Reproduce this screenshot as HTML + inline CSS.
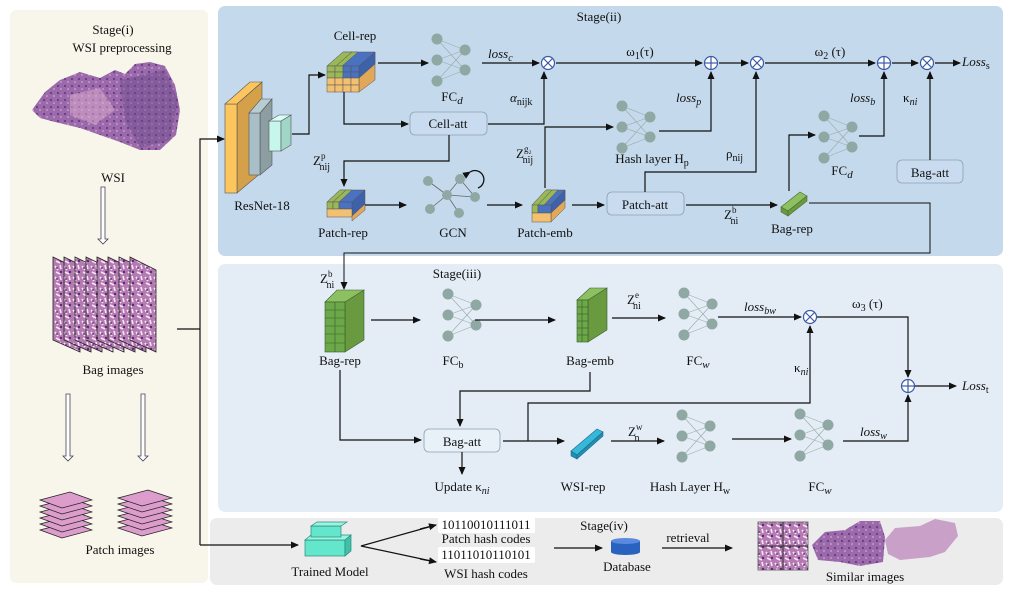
<!DOCTYPE html>
<html><head><meta charset="utf-8"><style>
html,body{margin:0;padding:0;background:#fff}
svg{display:block}
text{font-family:"Liberation Serif",serif;font-size:13px;fill:#111}
.it{font-style:italic}
</style></head><body>
<svg width="1009" height="593" viewBox="0 0 1009 593" xmlns="http://www.w3.org/2000/svg">
<defs>
<marker id="a" markerWidth="8" markerHeight="8" refX="7" refY="4" orient="auto" markerUnits="userSpaceOnUse"><path d="M0,0.5 L8,4 L0,7.5 z" fill="#111"/></marker>
<pattern id="tex" width="9" height="11" patternUnits="userSpaceOnUse">
<rect width="9" height="11" fill="#b67ab2"/>
<path d="M1,2 L4,6 M6,1 L7,5 M2,8 L6,10" stroke="#f4e8f2" stroke-width="1.6"/>
<circle cx="7" cy="8" r="1.2" fill="#5a2a7a"/><circle cx="3" cy="4" r="1" fill="#6a3a8a"/>
</pattern>
<pattern id="tex2" width="7" height="7" patternUnits="userSpaceOnUse">
<rect width="7" height="7" fill="#9a6aaa"/>
<circle cx="2" cy="2" r="1.1" fill="#6a3a8a"/><circle cx="5" cy="5" r="1" fill="#c796c6"/>
</pattern>
<g id="nn">
<g stroke="#9aa" stroke-width="0.6">
<line x1="0" y1="0" x2="28" y2="11"/><line x1="0" y1="0" x2="28" y2="31"/>
<line x1="0" y1="21" x2="28" y2="11"/><line x1="0" y1="21" x2="28" y2="31"/>
<line x1="0" y1="42" x2="28" y2="11"/><line x1="0" y1="42" x2="28" y2="31"/>
</g>
<g fill="#8fa8a3"><circle cx="0" cy="0" r="5.5"/><circle cx="0" cy="21" r="5.5"/><circle cx="0" cy="42" r="5.5"/><circle cx="28" cy="11" r="5.5"/><circle cx="28" cy="31" r="5.5"/></g>
</g>
<g id="ox"><circle r="6.5" fill="#fff" stroke="#3a5aa8" stroke-width="1.2"/><line x1="-4.5" y1="-4.5" x2="4.5" y2="4.5" stroke="#3a5aa8" stroke-width="1.2"/><line x1="-4.5" y1="4.5" x2="4.5" y2="-4.5" stroke="#3a5aa8" stroke-width="1.2"/></g>
<g id="op"><circle r="6.5" fill="#fff" stroke="#3a5aa8" stroke-width="1.2"/><line x1="-6.5" y1="0" x2="6.5" y2="0" stroke="#3a5aa8" stroke-width="1.2"/><line x1="0" y1="-6.5" x2="0" y2="6.5" stroke="#3a5aa8" stroke-width="1.2"/></g>
</defs>

<!-- panels -->
<rect x="10" y="10" width="198" height="573" rx="6" fill="#f8f5ea"/>
<rect x="218" y="6" width="785" height="250" rx="7" fill="#c5d9ec"/>
<rect x="218" y="264" width="785" height="248" rx="7" fill="#e4edf6"/>
<rect x="210" y="518" width="793" height="67" rx="7" fill="#ececec"/>

<!-- stage i -->
<text x="113" y="34" text-anchor="middle" font-size="14">Stage(i)</text>
<text x="122" y="52" text-anchor="middle" font-size="14">WSI preprocessing</text>
<path d="M32,110 L45,92 L60,80 L80,72 L100,78 L115,70 L125,74 L135,64 L150,62 L165,66 L175,85 L180,110 L176,135 L160,150 L140,150 L120,142 L100,135 L80,128 L55,122 L40,118 z" fill="url(#tex2)"/>
<path d="M120,80 L165,70 L178,100 L170,140 L140,148 L125,120 z" fill="#6a4a8a" opacity="0.45"/>
<path d="M70,95 L100,88 L115,110 L95,125 L70,115 z" fill="#e0b0d0" opacity="0.5"/>
<text x="113" y="182" text-anchor="middle" font-size="11">WSI</text>
<path d="M101,187 h4 v52 h3 l-5,5 l-5,-5 h3 z" fill="#fff" stroke="#445" stroke-width="0.8"/>
<!-- bag images -->
<g stroke="#222" stroke-width="0.8" fill="url(#tex)">
<polygon points="53,257 80,270 80,352 53,340"/>
<polygon points="64,257 91,270 91,352 64,340"/>
<polygon points="75,257 102,270 102,352 75,340"/>
<polygon points="86,257 113,270 113,352 86,340"/>
<polygon points="97,257 124,270 124,352 97,340"/>
<polygon points="108,257 135,270 135,352 108,340"/>
<polygon points="119,257 146,270 146,352 119,340"/>
<polygon points="130,257 156,270 156,352 130,340"/>
</g>
<text x="113" y="374" text-anchor="middle" font-size="14">Bag images</text>
<path d="M66,394 h4 v62 h3 l-5,5 l-5,-5 h3 z" fill="#fff" stroke="#445" stroke-width="0.8"/>
<path d="M141,394 h4 v62 h3 l-5,5 l-5,-5 h3 z" fill="#fff" stroke="#445" stroke-width="0.8"/>
<g stroke="#222" stroke-width="0.7" fill="#dc9ccc">
<polygon points="40,530 70,522 92,530 62,538"/><polygon points="40,524 70,516 92,524 62,532"/><polygon points="40,518 70,510 92,518 62,526"/><polygon points="40,512 70,504 92,512 62,520"/><polygon points="40,506 70,498 92,506 62,514"/><polygon points="40,500 70,492 92,500 62,508"/>
<polygon points="118,528 148,520 172,528 142,536"/><polygon points="118,522 148,514 172,522 142,530"/><polygon points="118,516 148,508 172,516 142,524"/><polygon points="118,510 148,502 172,510 142,518"/><polygon points="118,504 148,496 172,504 142,512"/><polygon points="118,498 148,490 172,498 142,506"/>
</g>
<text x="120" y="554" text-anchor="middle" font-size="14">Patch images</text>

<!-- left connector -->
<g stroke="#111" stroke-width="1.2" fill="none">
<line x1="177" y1="329" x2="200" y2="329"/>
<polyline points="200,545 200,139 224,139" marker-end="url(#a)"/>
<polyline points="200,545 298,545" marker-end="url(#a)"/>
</g>

<!-- ResNet -->
<polygon points="237,104 262,82 262,172 237,193" fill="#d4a04a" stroke="#555" stroke-width="0.6"/>
<rect x="225" y="104" width="12" height="89" fill="#fcc55e" stroke="#555" stroke-width="0.6"/>
<polygon points="225,104 250,82 262,82 237,104" fill="#fcc55e" stroke="#555" stroke-width="0.6"/>
<polygon points="260,113 272,99 272,165 260,175" fill="#8c9ea2" stroke="#555" stroke-width="0.6"/>
<rect x="249" y="113" width="11" height="62" fill="#a9bfc8" stroke="#555" stroke-width="0.6"/>
<polygon points="249,113 261,99 272,99 260,113" fill="#b8ccd3" stroke="#555" stroke-width="0.6"/>
<rect x="269" y="121" width="12" height="30" fill="#c7f6ec" stroke="#555" stroke-width="0.6"/>
<polygon points="281,121 291,115 291,145 281,151" fill="#9fd6c8" stroke="#555" stroke-width="0.6"/>
<polygon points="269,121 279,115 291,115 281,121" fill="#d8fff5" stroke="#555" stroke-width="0.6"/>
<text x="262" y="210" text-anchor="middle" font-size="14">ResNet-18</text>

<!-- Cell-rep cube -->
<g stroke="#555" stroke-width="0.5">
<polygon points="327,66 343,52 375,52 359,66" fill="#4a72c0"/>
<polygon points="327,66 343,52 352,52 336,66" fill="#9ab858"/>
<polygon points="336,66 352,52 358,52 342,66" fill="#9ab858"/>
<polygon points="359,66 375,52 375,80 359,92" fill="#e0a858"/>
<polygon points="359,66 375,52 375,64 359,78" fill="#3d62aa"/>
<rect x="327" y="66" width="8" height="6" fill="#9ab858"/><rect x="335" y="66" width="8" height="6" fill="#9ab858"/><rect x="343" y="66" width="8" height="6" fill="#4a72c0"/><rect x="351" y="66" width="8" height="6" fill="#4a72c0"/>
<rect x="327" y="72" width="8" height="6" fill="#9ab858"/><rect x="335" y="72" width="8" height="6" fill="#9ab858"/><rect x="343" y="72" width="8" height="6" fill="#4a72c0"/><rect x="351" y="72" width="8" height="6" fill="#4a72c0"/>
<rect x="327" y="78" width="8" height="7" fill="#f2c070"/><rect x="335" y="78" width="8" height="7" fill="#f2c070"/><rect x="343" y="78" width="8" height="7" fill="#f2c070"/><rect x="351" y="78" width="8" height="7" fill="#f2c070"/>
<rect x="327" y="85" width="8" height="7" fill="#f2c070"/><rect x="335" y="85" width="8" height="7" fill="#f2c070"/><rect x="343" y="85" width="8" height="7" fill="#f2c070"/><rect x="351" y="85" width="8" height="7" fill="#f2c070"/>
</g>
<text x="355" y="40" text-anchor="middle" font-size="14">Cell-rep</text>
<use href="#nn" x="437" y="39"/>
<text x="452" y="101" text-anchor="middle" font-size="14">FC<tspan class="it" font-size="11" dy="3">d</tspan></text>

<!-- Stage ii texts -->
<text x="599" y="21" text-anchor="middle" font-size="14">Stage(ii)</text>
<text x="488" y="58" class="it" font-size="14">loss<tspan font-size="10" dy="3">c</tspan></text>
<text x="640" y="56" text-anchor="middle" font-size="14">ω<tspan font-size="10" dy="3">1</tspan><tspan dy="-3">(τ)</tspan></text>
<text x="830" y="56" text-anchor="middle" font-size="14">ω<tspan font-size="10" dy="3">2</tspan><tspan dy="-3"> (τ)</tspan></text>
<text x="962" y="66" class="it" font-size="14">Loss<tspan font-size="10" dy="3" font-style="normal">s</tspan></text>
<text x="510" y="102" class="it" font-size="14">α<tspan font-size="10" dy="3" font-style="normal">nijk</tspan></text>
<text x="676" y="102" class="it" font-size="14">loss<tspan font-size="10" dy="3">p</tspan></text>
<text x="850" y="102" class="it" font-size="14">loss<tspan font-size="10" dy="3">b</tspan></text>
<text x="903" y="102" font-size="14">κ<tspan class="it" font-size="10" dy="3">ni</tspan></text>
<text x="726" y="158" font-size="14">ρ<tspan font-size="10" dy="3">nij</tspan></text>
<text x="516" y="158" font-size="14">Z<tspan font-size="9" dy="-6">g₂</tspan><tspan font-size="10" dx="-9" dy="11">nij</tspan></text>
<text x="313" y="165" font-size="14">Z<tspan font-size="9" dy="-6">p</tspan><tspan font-size="10" dx="-6" dy="11">nij</tspan></text>
<text x="724" y="219" font-size="14">Z<tspan font-size="9" dy="-6">b</tspan><tspan font-size="10" dx="-6" dy="11">ni</tspan></text>

<use href="#ox" x="548" y="63"/><use href="#op" x="711" y="63"/><use href="#ox" x="757" y="63"/><use href="#op" x="884" y="63"/><use href="#ox" x="927" y="63"/>

<rect x="410" y="112" width="77" height="23" rx="5" fill="#c9dcef" stroke="#8aa0b4" stroke-width="0.8"/>
<text x="448" y="128" text-anchor="middle" font-size="14">Cell-att</text>
<use href="#nn" x="622" y="106"/>
<text x="652" y="163" text-anchor="middle" font-size="14">Hash layer H<tspan font-size="10" dy="3">p</tspan></text>
<use href="#nn" x="824" y="116"/>
<text x="842" y="175" text-anchor="middle" font-size="14">FC<tspan class="it" font-size="11" dy="3">d</tspan></text>
<rect x="897" y="160" width="66" height="23" rx="5" fill="#c9dcef" stroke="#8aa0b4" stroke-width="0.8"/>
<text x="930" y="177" text-anchor="middle" font-size="14">Bag-att</text>
<rect x="607" y="192" width="77" height="23" rx="5" fill="#c9dcef" stroke="#8aa0b4" stroke-width="0.8"/>
<text x="645" y="209" text-anchor="middle" font-size="14">Patch-att</text>

<!-- patch rep -->
<g stroke="#555" stroke-width="0.5">
<polygon points="327,202 340,190 365,190 352,202" fill="#4a72c0"/>
<polygon points="327,202 340,190 346,190 333,202" fill="#9ab858"/>
<polygon points="333,202 346,190 352,190 339,202" fill="#9ab858"/>
<polygon points="352,202 365,190 365,204 352,216" fill="#3d62aa"/>
<rect x="327" y="202" width="6" height="7" fill="#9ab858"/><rect x="333" y="202" width="6" height="7" fill="#9ab858"/><rect x="339" y="202" width="13" height="7" fill="#4a72c0"/>
<rect x="327" y="209" width="25" height="8" fill="#f2c070"/>
<polygon points="352,216 365,204 365,210 352,221" fill="#e0a858"/>
</g>
<text x="343" y="237" text-anchor="middle" font-size="14">Patch-rep</text>
<!-- GCN -->
<g stroke="#666" stroke-width="0.8"><line x1="447" y1="195" x2="428" y2="181"/><line x1="447" y1="195" x2="460" y2="179"/><line x1="447" y1="195" x2="475" y2="197"/><line x1="447" y1="195" x2="430" y2="209"/><line x1="447" y1="195" x2="459" y2="213"/><line x1="460" y1="179" x2="475" y2="197"/></g>
<g fill="#8fa8a3"><circle cx="447" cy="195" r="5"/><circle cx="428" cy="181" r="5"/><circle cx="460" cy="179" r="5"/><circle cx="475" cy="197" r="5"/><circle cx="430" cy="209" r="5"/><circle cx="459" cy="213" r="5"/></g>
<path d="M470,172 A9,9 0 1 1 478,188" fill="none" stroke="#111" stroke-width="1.3" marker-start="url(#a)"/>
<text x="453" y="237" text-anchor="middle" font-size="14">GCN</text>
<!-- patch emb -->
<g stroke="#555" stroke-width="0.5">
<polygon points="532,205 546,190 565,190 551,205" fill="#4a72c0"/>
<polygon points="532,205 546,190 552,190 538,205" fill="#9ab858"/>
<polygon points="538,205 552,190 558,190 544,205" fill="#9ab858"/>
<polygon points="551,205 565,190 565,208 551,222" fill="#e0a858"/>
<polygon points="551,205 565,190 565,200 551,213" fill="#3d62aa"/>
<rect x="532" y="205" width="6" height="8" fill="#9ab858"/><rect x="538" y="205" width="13" height="8" fill="#4a72c0"/>
<rect x="532" y="213" width="19" height="9" fill="#f2c070"/>
</g>
<text x="545" y="237" text-anchor="middle" font-size="14">Patch-emb</text>
<!-- bag rep bar -->
<polygon points="781,207 800,192 807,196 788,211" fill="#8cc060" stroke="#4a6a30" stroke-width="0.6"/>
<polygon points="781,207 788,211 788,216 781,212" fill="#6a9a40" stroke="#4a6a30" stroke-width="0.6"/>
<polygon points="788,211 807,196 807,201 788,216" fill="#6a9a40" stroke="#4a6a30" stroke-width="0.6"/>
<text x="792" y="233" text-anchor="middle" font-size="14">Bag-rep</text>

<!-- stage ii connectors -->
<g stroke="#111" stroke-width="1.2" fill="none">
<polyline points="292,134 309,134 309,75 325,75" marker-end="url(#a)"/>
<line x1="378" y1="63" x2="428" y2="63" marker-end="url(#a)"/>
<line x1="482" y1="63" x2="539" y2="63" marker-end="url(#a)"/>
<line x1="556" y1="63" x2="702" y2="63" marker-end="url(#a)"/>
<line x1="719" y1="63" x2="748" y2="63" marker-end="url(#a)"/>
<line x1="765" y1="63" x2="875" y2="63" marker-end="url(#a)"/>
<line x1="892" y1="63" x2="918" y2="63" marker-end="url(#a)"/>
<line x1="935" y1="63" x2="960" y2="63" marker-end="url(#a)"/>
<polyline points="344,92 344,124 408,124" marker-end="url(#a)"/>
<polyline points="488,124 544,124 544,72" marker-end="url(#a)"/>
<polyline points="449,135 449,161 344,161 344,186" marker-end="url(#a)"/>
<line x1="365" y1="205" x2="406" y2="205" marker-end="url(#a)"/>
<line x1="487" y1="205" x2="522" y2="205" marker-end="url(#a)"/>
<line x1="572" y1="205" x2="604" y2="205" marker-end="url(#a)"/>
<polyline points="545,188 545,127 613,127" marker-end="url(#a)"/>
<polyline points="659,131 711,131 711,72" marker-end="url(#a)"/>
<polyline points="645,192 645,172 756,172 756,72" marker-end="url(#a)"/>
<line x1="686" y1="205" x2="777" y2="205" marker-end="url(#a)"/>
<polyline points="789,191 789,135 815,135" marker-end="url(#a)"/>
<polyline points="859,136 884,136 884,72" marker-end="url(#a)"/>
<polyline points="930,160 930,72" marker-end="url(#a)"/>
<polyline points="809,203 930,203 930,253 344,253 344,289" stroke-width="1" marker-end="url(#a)"/>
</g>

<!-- Stage iii -->
<text x="457" y="278" text-anchor="middle" font-size="14">Stage(iii)</text>
<text x="320" y="283" font-size="14">Z<tspan font-size="9" dy="-6">b</tspan><tspan font-size="10" dx="-6" dy="11">ni</tspan></text>
<g stroke="#3a5a30" stroke-width="0.6">
<polygon points="325,302 337,290 364,290 352,302" fill="#8cc060"/>
<polygon points="345,302 364,290 364,340 345,352" fill="#6a9a40"/>
<rect x="325" y="302" width="20" height="50" fill="#6aa848"/>
<line x1="335" y1="302" x2="335" y2="352"/><line x1="325" y1="310" x2="345" y2="310"/><line x1="325" y1="318" x2="345" y2="318"/><line x1="325" y1="326" x2="345" y2="326"/><line x1="325" y1="334" x2="345" y2="334"/><line x1="325" y1="343" x2="345" y2="343"/>
</g>
<text x="340" y="365" text-anchor="middle" font-size="14">Bag-rep</text>
<use href="#nn" x="448" y="294"/>
<text x="453" y="365" text-anchor="middle" font-size="14">FC<tspan font-size="10" dy="3">b</tspan></text>
<g stroke="#3a5a30" stroke-width="0.6">
<polygon points="577,300 590,288 607,288 594,300" fill="#8cc060"/>
<polygon points="588,300 607,288 607,330 588,342" fill="#6a9a40"/>
<rect x="577" y="300" width="11" height="42" fill="#6aa848"/>
<line x1="582" y1="300" x2="582" y2="342"/><line x1="577" y1="307" x2="588" y2="307"/><line x1="577" y1="314" x2="588" y2="314"/><line x1="577" y1="321" x2="588" y2="321"/><line x1="577" y1="328" x2="588" y2="328"/><line x1="577" y1="335" x2="588" y2="335"/>
</g>
<text x="590" y="365" text-anchor="middle" font-size="14">Bag-emb</text>
<text x="627" y="304" font-size="14">Z<tspan font-size="9" dy="-6">e</tspan><tspan font-size="10" dx="-6" dy="11">ni</tspan></text>
<use href="#nn" x="684" y="293"/>
<text x="698" y="365" text-anchor="middle" font-size="14">FC<tspan class="it" font-size="11" dy="3">w</tspan></text>
<text x="744" y="311" class="it" font-size="14">loss<tspan font-size="10" dy="3">bw</tspan></text>
<text x="852" y="308" font-size="14">ω<tspan font-size="10" dy="3">3</tspan><tspan dy="-3"> (τ)</tspan></text>
<text x="794" y="372" font-size="14">κ<tspan class="it" font-size="10" dy="3">ni</tspan></text>
<text x="962" y="390" class="it" font-size="14">Loss<tspan font-size="10" dy="3" font-style="normal">t</tspan></text>
<use href="#ox" x="810" y="317"/><use href="#op" x="908" y="386"/>
<rect x="424" y="429" width="76" height="23" rx="5" fill="#e8f0f8" stroke="#8aa0b4" stroke-width="0.8"/>
<text x="462" y="446" text-anchor="middle" font-size="14">Bag-att</text>
<text x="462" y="491" text-anchor="middle" font-size="14">Update κ<tspan class="it" font-size="10" dy="3">ni</tspan></text>
<polygon points="571,451 597,429 603,432 577,455" fill="#38b8d8" stroke="#1a6a8a" stroke-width="0.6"/>
<polygon points="571,451 577,455 577,459 571,456" fill="#2090b0" stroke="#1a6a8a" stroke-width="0.6"/>
<polygon points="577,455 603,432 603,436 577,459" fill="#2090b0" stroke="#1a6a8a" stroke-width="0.6"/>
<text x="583" y="491" text-anchor="middle" font-size="14">WSI-rep</text>
<text x="628" y="436" font-size="14">Z<tspan font-size="9" dy="-6">w</tspan><tspan font-size="10" dx="-8" dy="11">n</tspan></text>
<use href="#nn" x="682" y="415"/>
<text x="690" y="491" text-anchor="middle" font-size="14">Hash Layer H<tspan font-size="10" dy="3">w</tspan></text>
<use href="#nn" x="800" y="414"/>
<text x="820" y="491" text-anchor="middle" font-size="14">FC<tspan class="it" font-size="11" dy="3">w</tspan></text>
<text x="860" y="436" class="it" font-size="14">loss<tspan font-size="10" dy="3">w</tspan></text>

<g stroke="#111" stroke-width="1.2" fill="none">
<line x1="371" y1="320" x2="420" y2="320" marker-end="url(#a)"/>
<line x1="475" y1="320" x2="555" y2="320" marker-end="url(#a)"/>
<line x1="612" y1="318" x2="665" y2="318" marker-end="url(#a)"/>
<line x1="718" y1="317" x2="801" y2="317" marker-end="url(#a)"/>
<polyline points="817,317 908,317 908,377" marker-end="url(#a)"/>
<line x1="915" y1="386" x2="956" y2="386" marker-end="url(#a)"/>
<polyline points="340,370 340,440 421,440" marker-end="url(#a)"/>
<polyline points="590,372 590,391 460,391 460,426" marker-end="url(#a)"/>
<line x1="462" y1="452" x2="462" y2="474" marker-end="url(#a)"/>
<line x1="503" y1="441" x2="564" y2="441" marker-end="url(#a)"/>
<polyline points="528,441 528,403 810,403 810,326" marker-end="url(#a)"/>
<line x1="611" y1="441" x2="664" y2="441" marker-end="url(#a)"/>
<line x1="732" y1="439" x2="791" y2="439" marker-end="url(#a)"/>
<polyline points="843,441 908,441 908,395" marker-end="url(#a)"/>
</g>

<!-- Stage iv -->
<rect x="305" y="540" width="40" height="16" fill="#64e6cc" stroke="#2a8a7a" stroke-width="0.7"/>
<polygon points="305,540 311,535 351,535 345,540" fill="#9af5e0" stroke="#2a8a7a" stroke-width="0.7"/>
<polygon points="345,540 351,535 351,551 345,556" fill="#40c0a8" stroke="#2a8a7a" stroke-width="0.7"/>
<rect x="311" y="526" width="30" height="11" fill="#64e6cc" stroke="#2a8a7a" stroke-width="0.7"/>
<polygon points="311,526 317,522 347,522 341,526" fill="#9af5e0" stroke="#2a8a7a" stroke-width="0.7"/>
<text x="330" y="576" text-anchor="middle" font-size="14">Trained Model</text>
<g stroke="#111" stroke-width="1.2" fill="none">
<polyline points="436,525 361,546 436,562" />
<line x1="420" y1="529" x2="436" y2="525" marker-end="url(#a)"/>
<line x1="420" y1="559" x2="436" y2="562" marker-end="url(#a)"/>
<line x1="554" y1="548" x2="602" y2="548" marker-end="url(#a)"/>
<line x1="662" y1="548" x2="732" y2="548" marker-end="url(#a)"/>
</g>
<rect x="438" y="517" width="97" height="16" rx="2" fill="#fff"/>
<text x="486" y="529" text-anchor="middle" font-size="11">10110010111011</text>
<text x="486" y="543" text-anchor="middle" font-size="12">Patch hash codes</text>
<rect x="438" y="547" width="97" height="16" rx="2" fill="#fff"/>
<text x="486" y="559" text-anchor="middle" font-size="11">11011010110101</text>
<text x="486" y="578" text-anchor="middle" font-size="12">WSI hash codes</text>
<text x="604" y="530" text-anchor="middle" font-size="14">Stage(iv)</text>
<rect x="611" y="541" width="29" height="11" fill="#2a62c0"/>
<ellipse cx="625.5" cy="552" rx="14.5" ry="3" fill="#2a62c0"/>
<ellipse cx="625.5" cy="541" rx="14.5" ry="3" fill="#5a8ae0"/>
<text x="627" y="571" text-anchor="middle" font-size="14">Database</text>
<text x="688" y="542" text-anchor="middle" font-size="14">retrieval</text>
<!-- similar images -->
<rect x="758" y="522" width="50" height="48" fill="url(#tex)" stroke="#555" stroke-width="0.8"/>
<line x1="783" y1="522" x2="783" y2="570" stroke="#333"/><line x1="758" y1="546" x2="808" y2="546" stroke="#333"/>
<path d="M812,545 L825,532 L845,530 L860,521 L880,521 L885,537 L883,562 L860,566 L840,562 L818,560 z" fill="url(#tex2)"/>
<path d="M885,540 L895,528 L920,526 L935,519 L955,523 L958,536 L945,552 L930,557 L900,560 L888,554 z" fill="#c9a0c8"/>
<text x="865" y="581" text-anchor="middle" font-size="14">Similar images</text>
</svg>
</body></html>
